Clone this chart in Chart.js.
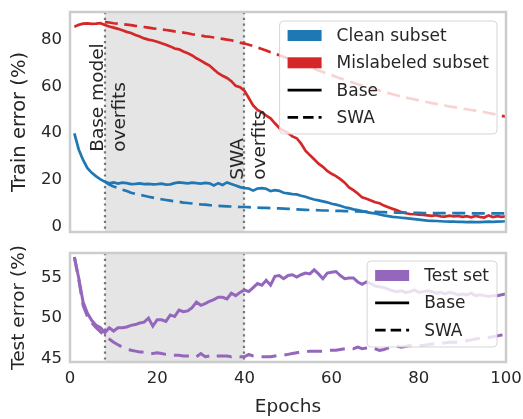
<!DOCTYPE html>
<html><head><meta charset="utf-8">
<script src="https://cdn.jsdelivr.net/npm/chart.js@4"></script>
<style>
html,body{margin:0;padding:0;background:#fff;}
#wrap{position:relative;width:523px;height:419px;overflow:hidden;}
canvas{position:absolute;left:0;}
#c1{top:0;} #c2{top:240px;}
</style></head><body>
<div id="wrap"><canvas id="c1" width="523" height="240"></canvas><canvas id="c2" width="523" height="179"></canvas></div>
<script>
const epochs = [1,2,3,4,5,6,7,8,9,10,11,12,13,14,15,16,17,18,19,20,21,22,23,24,25,26,27,28,29,30,31,32,33,34,35,36,37,38,39,40,41,42,43,44,45,46,47,48,49,50,51,52,53,54,55,56,57,58,59,60,61,62,63,64,65,66,67,68,69,70,71,72,73,74,75,76,77,78,79,80,81,82,83,84,85,86,87,88,89,90,91,92,93,94,95,96,97,98,99,100];

const cleanBase = [39.9,33.0,28.5,25.0,23.0,21.5,20.2,19.2,18.5,18.9,
18.4,18.8,18.6,18.2,18.3,18.5,18.2,18.3,18.1,18.2,
18.4,18.0,18.1,18.6,18.9,18.7,18.5,18.8,18.6,18.4,
18.7,18.5,17.6,18.6,17.8,18.9,18.2,17.6,16.9,16.5,
16.3,15.4,16.3,16.5,16.2,15.2,15.6,15.3,14.5,14.2,
13.9,13.8,13.2,12.8,12.1,11.6,11.2,10.8,10.4,9.8,
9.4,8.9,8.3,7.9,7.4,7.1,6.7,6.2,5.9,5.6,
5.2,4.8,4.5,4.2,4.0,3.8,3.6,3.4,3.2,3.0,
2.8,2.6,2.5,2.4,2.3,2.2,2.1,2.1,2.0,2.0,
1.9,2.0,1.9,1.9,2.0,2.1,2.0,2.1,2.2,2.3];

const cleanSWA = [null,null,null,null,null,null,null,19.2,18.0,17.2,
16.5,15.8,15.2,14.5,14.0,13.6,13.2,12.8,12.4,12.0,
11.7,11.4,11.1,10.8,10.6,10.3,10.1,9.9,9.7,9.5,
9.4,9.2,9.1,8.9,8.8,8.7,8.6,8.5,8.4,8.4,
8.3,8.2,8.1,8.0,8.0,7.9,7.8,7.8,7.7,7.6,
7.5,7.4,7.3,7.2,7.1,7.1,7.0,6.9,6.9,6.8,
6.7,6.7,6.6,6.6,6.5,6.5,6.4,6.4,6.3,6.3,
6.2,6.2,6.1,6.1,6.0,6.0,6.0,5.9,5.9,5.9,
5.8,5.8,5.8,5.8,5.8,5.8,5.8,5.8,5.8,5.8,
5.7,5.7,5.7,5.7,5.7,5.7,5.7,5.7,5.7,5.7];

const mislabeledBase = [85.5,86.3,86.8,86.9,86.7,86.8,87.0,86.2,85.6,85.1,
84.6,84.0,83.3,82.8,82.0,81.3,80.5,80.0,79.6,79.1,
78.4,77.8,77.1,76.2,75.8,74.9,74.2,73.2,72.0,71.0,
69.9,68.9,67.2,65.6,64.5,63.6,62.2,60.2,59.6,58.2,
55.0,51.8,49.9,48.9,47.5,46.3,44.2,42.2,41.0,40.1,
38.6,37.8,35.5,32.5,30.6,28.8,26.9,25.6,23.8,22.6,
21.6,20.3,18.8,16.8,15.6,14.2,12.5,11.9,11.2,10.4,
10.0,9.0,8.3,7.6,7.0,6.2,5.7,5.4,5.3,5.1,
5.0,4.8,4.6,4.9,4.4,4.3,4.7,4.4,4.6,4.2,
4.5,4.0,4.6,4.2,3.9,4.8,4.1,4.5,4.2,4.4];

const mislabeledSWA = [null,null,null,null,null,null,null,87.5,87.3,87.0,
86.8,86.6,86.4,86.2,85.9,85.7,85.4,85.1,84.8,84.6,
84.3,84.1,83.8,83.5,83.2,83.0,82.7,82.3,82.0,81.7,
81.4,81.2,80.9,80.6,80.3,80.0,79.7,79.2,78.7,78.3,
77.8,77.3,76.6,76.0,75.3,74.6,74.0,73.3,72.6,71.9,
71.2,70.4,69.7,68.9,68.2,67.5,66.8,66.1,65.4,64.8,
64.1,63.4,62.8,62.1,61.5,60.9,60.4,59.8,59.2,58.7,
58.2,57.6,57.1,56.6,56.1,55.7,55.2,54.8,54.4,54.0,
53.6,53.2,52.8,52.5,52.1,51.8,51.4,51.1,50.8,50.5,
50.2,49.9,49.6,49.3,49.0,48.6,48.2,47.8,47.4,47.0];

const testBase = [57.6,55.0,52.0,50.6,49.7,49.1,48.8,48.2,48.8,48.4,
48.8,48.8,48.9,49.1,49.2,49.4,49.5,50.0,49.0,49.8,
49.8,49.6,50.4,50.2,51.0,50.8,50.9,51.3,52.0,51.6,
51.8,52.1,52.3,52.6,52.6,52.4,53.1,52.8,53.2,53.5,
53.3,53.8,54.3,54.1,54.7,54.1,55.2,55.3,54.9,55.3,
55.4,55.1,55.4,55.6,55.5,56.0,55.5,54.9,55.6,55.7,
55.8,55.3,54.9,55.0,55.0,54.5,54.2,54.5,54.3,54.0,
53.9,53.8,53.6,53.4,53.3,53.4,53.2,53.3,53.5,53.2,
53.3,53.4,53.3,53.1,53.2,53.0,53.2,53.1,52.9,53.0,
52.9,53.1,52.8,52.9,52.8,52.7,52.8,52.8,52.9,53.0];

const testSWA = [57.6,54.8,51.6,50.2,49.4,48.8,48.3,47.8,47.4,47.0,
46.7,46.4,46.2,46.0,45.9,45.8,45.8,45.6,45.6,45.7,
45.6,45.5,45.5,45.4,45.4,45.3,45.3,45.4,45.2,45.6,
45.2,45.3,45.1,45.3,45.3,45.3,45.2,45.3,45.2,45.2,
45.5,45.3,45.2,45.2,45.2,45.2,45.3,45.4,45.4,45.5,
45.6,45.7,45.8,45.8,45.9,45.9,45.9,45.9,46.0,46.0,
46.0,46.1,46.2,46.3,46.2,46.4,46.2,46.3,46.4,46.2,
46.0,46.1,46.3,46.4,46.5,46.4,46.5,46.6,46.5,46.6,
46.6,46.7,46.8,46.8,46.9,46.9,47.0,47.0,47.0,47.1,
47.2,47.3,47.4,47.5,47.6,47.6,47.7,47.8,47.9,48.0];

const trainTicks = [0,20,40,60,80];
const testTicks = [45,50,55];
const epochTicks = [0,20,40,60,80,100];
const overfitEpochs = [8,40];
const annotationEpochs = [8,40];
const annotationValues = [32,20];
const annotationLines = [['Base model','overfits'],['SWA','overfits']];
const trainLegendLabels = ['Clean subset','Mislabeled subset','Base','SWA'];
const testLegendLabels = ['Test set','Base','SWA'];

const BLUE='#1f77b4', RED='#d62728', PURPLE='#9467bd', TXT='#262626';
const FONT='DejaVu Sans';
Chart.defaults.font.family = FONT;
Chart.defaults.color = TXT;

function pts(vals){ return vals.map((v,i)=>({x:epochs[i], y:v})); }

function roundRect(ctx,x,y,w,h,r){
  ctx.beginPath();
  ctx.moveTo(x+r,y); ctx.lineTo(x+w-r,y); ctx.quadraticCurveTo(x+w,y,x+w,y+r);
  ctx.lineTo(x+w,y+h-r); ctx.quadraticCurveTo(x+w,y+h,x+w-r,y+h);
  ctx.lineTo(x+r,y+h); ctx.quadraticCurveTo(x,y+h,x,y+h-r);
  ctx.lineTo(x,y+r); ctx.quadraticCurveTo(x,y,x+r,y); ctx.closePath();
}

const decor = {
  id:'decor',
  beforeDatasetsDraw(chart, args, o){
    const {ctx, chartArea:a, scales:{x}} = chart;
    ctx.save();
    const x0 = x.getPixelForValue(o.shade[0]), x1 = x.getPixelForValue(o.shade[1]);
    ctx.fillStyle = '#e5e5e5';
    ctx.fillRect(x0, a.top, x1-x0, a.bottom-a.top);
    ctx.strokeStyle = 'rgba(105,105,105,0.9)'; ctx.lineWidth = 2.2; ctx.setLineDash([2.2,3.6]);
    o.shade.forEach(v=>{ const px = Math.round(x.getPixelForValue(v)); ctx.beginPath(); ctx.moveTo(px, a.top); ctx.lineTo(px, a.bottom); ctx.stroke(); });
    ctx.restore();
  },
  afterDatasetsDraw(chart, args, o){
    const {ctx, chartArea:a, scales:{x,y}} = chart;
    ctx.save();
    if (o.annot) {
      ctx.fillStyle = TXT; ctx.font = '18.5px "'+FONT+'"'; ctx.textAlign='left'; ctx.textBaseline='alphabetic';
      o.annot.epochs.forEach((ep,i)=>{
        const px = x.getPixelForValue(ep), py = y.getPixelForValue(o.annot.values[i]);
        ctx.save(); ctx.translate(px, py); ctx.rotate(-Math.PI/2);
        o.annot.lines[i].forEach((ln,j)=>{ ctx.fillText(ln, 0, -1.5 + j*22); });
        ctx.restore();
      });
    }
    ctx.strokeStyle = '#cccccc'; ctx.lineWidth = 2.5; ctx.setLineDash([]);
    ctx.strokeRect(a.left, a.top, a.right-a.left, a.bottom-a.top);
    const L = o.legend;
    ctx.font = '17px "'+FONT+'"';
    let maxW = 0; L.items.forEach(it=>{ maxW = Math.max(maxW, ctx.measureText(it.label).width); });
    const w = 57 + maxW + 8, h = L.items.length*27 + 5;
    const lx = a.right - 9 - w, ly = a.top + L.dy;
    roundRect(ctx, lx, ly, w, h, 4);
    ctx.fillStyle = 'rgba(255,255,255,0.8)'; ctx.fill();
    ctx.strokeStyle = 'rgba(204,204,204,0.8)'; ctx.lineWidth = 1; ctx.stroke();
    L.items.forEach((it,i)=>{
      const cy = ly + 14.5 + i*27.3;
      if (it.type==='patch') { ctx.fillStyle = it.color; ctx.fillRect(lx+8, cy-5.5, 34, 11); }
      else {
        ctx.strokeStyle = '#000'; ctx.lineWidth = 2.7; ctx.setLineDash(it.type==='dash'?[10.5,5]:[]);
        ctx.beginPath(); ctx.moveTo(lx+8, cy); ctx.lineTo(lx+42, cy); ctx.stroke(); ctx.setLineDash([]);
      }
      ctx.fillStyle = TXT; ctx.textAlign='left'; ctx.textBaseline='middle';
      ctx.fillText(it.label, lx+57, cy+1);
    });
    ctx.restore();
  }
};

function yAxis(min,max,ticks,title,tsize){
  return {
    type:'linear', min, max,
    afterBuildTicks(s){ s.ticks = ticks.map(v=>({value:v})); },
    afterFit(s){ s.width = 70; s.paddingTop = 0; s.paddingBottom = 0; },
    grid:{display:false, drawTicks:false}, border:{display:false},
    ticks:{padding:8, color:TXT, font:{size:16.5}},
    title:{display:true, text:title, color:TXT, font:{size:tsize}, padding:{top:8,bottom:0}}
  };
}

new Chart(document.getElementById('c1'), {
  type:'line',
  data:{datasets:[
    {data:pts(cleanBase), borderColor:BLUE, borderWidth:2.7, pointRadius:0, tension:0},
    {data:pts(cleanSWA), borderColor:BLUE, borderWidth:2.7, borderDash:[13,6.5], pointRadius:0, tension:0},
    {data:pts(mislabeledBase), borderColor:RED, borderWidth:2.7, pointRadius:0, tension:0},
    {data:pts(mislabeledSWA), borderColor:RED, borderWidth:2.7, borderDash:[13,6.5], pointRadius:0, tension:0}
  ]},
  options:{
    responsive:false, animation:false, events:[],
    layout:{padding:{left:0,right:17,top:12,bottom:8}},
    scales:{
      x:{type:'linear', min:0, max:100, display:false},
      y:yAxis(-2.3, 91.8, trainTicks, 'Train error (%)', 19.5)
    },
    plugins:{legend:{display:false}, tooltip:{enabled:false},
      decor:{shade:overfitEpochs,
        annot:{epochs:annotationEpochs, values:annotationValues, lines:annotationLines},
        legend:{dy:9, items:[
          {type:'patch', color:BLUE, label:trainLegendLabels[0]},
          {type:'patch', color:RED, label:trainLegendLabels[1]},
          {type:'line', label:trainLegendLabels[2]},
          {type:'dash', label:trainLegendLabels[3]}]}}}
  },
  plugins:[decor]
});

new Chart(document.getElementById('c2'), {
  type:'line',
  data:{datasets:[
    {data:pts(testBase), borderColor:PURPLE, borderWidth:3, pointRadius:0, tension:0},
    {data:pts(testSWA), borderColor:PURPLE, borderWidth:3, borderDash:[15,8], pointRadius:0, tension:0}
  ]},
  options:{
    responsive:false, animation:false, events:[],
    layout:{padding:{left:0,right:17,top:13,bottom:0}},
    scales:{
      x:{type:'linear', min:0, max:100,
        afterBuildTicks(s){ s.ticks = epochTicks.map(v=>({value:v})); },
        afterFit(s){ s.height = 57; s.paddingLeft = 0; s.paddingRight = 0; },
        grid:{display:false, drawTicks:false}, border:{display:false},
        ticks:{padding:7, color:TXT, font:{size:16.5}, maxRotation:0},
        title:{display:true, text:'Epochs', color:TXT, font:{size:18.5}, padding:{top:0,bottom:1}}
      },
      y:yAxis(44.55, 58.1, testTicks, 'Test error (%)', 18.5)
    },
    plugins:{legend:{display:false}, tooltip:{enabled:false},
      decor:{shade:overfitEpochs,
        legend:{dy:8, items:[
          {type:'patch', color:PURPLE, label:testLegendLabels[0]},
          {type:'line', label:testLegendLabels[1]},
          {type:'dash', label:testLegendLabels[2]}]}}}
  },
  plugins:[decor]
});
</script>
</body></html>
